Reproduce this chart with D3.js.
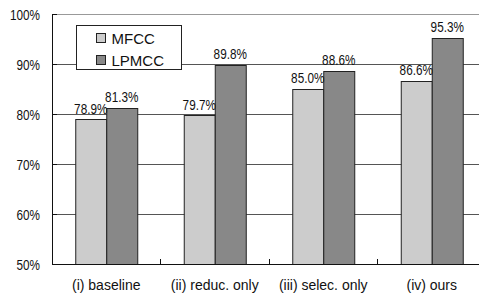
<!DOCTYPE html>
<html>
<head>
<meta charset="utf-8">
<script src="https://cdn.jsdelivr.net/npm/d3@7"></script>
<style>
    body { margin: 0; background: #fff; }
    svg { display: block; }
    text { font-family: "Liberation Sans", Arial, sans-serif; fill: #111; }
</style>
</head>
<body>
<div id="chart"></div>
<script>
const CATEGORIES = ["(i) baseline", "(ii) reduc. only", "(iii) selec. only", "(iv) ours"];
const SERIES = ["MFCC", "LPMCC"];
const MFCC = [78.9, 79.7, 85.0, 86.6];
const LPMCC = [81.3, 89.8, 88.6, 95.3];
const Y_TICKS = [50, 60, 70, 80, 90, 100];

const COLORS = { MFCC: "#cccccc", LPMCC: "#888888" };
const SQUEEZE = 0.84; // narrow numeric font look

const W = 479, H = 294;
const margin = { left: 52, top: 14, bottom: 30 };
const plotRight = 486; // plot runs past the picture edge

const svg = d3.select("#chart").append("svg")
    .attr("width", W)
    .attr("height", H);

const x = d3.scaleBand()
    .domain(CATEGORIES)
    .range([margin.left, plotRight])
    .paddingInner(0.4286)
    .paddingOuter(0.2143);

const x1 = d3.scaleBand()
    .domain(SERIES)
    .range([0, x.bandwidth()]);

const y = d3.scaleLinear()
    .domain([50, 100])
    .range([H - margin.bottom, margin.top]);

const rows = CATEGORIES.map((c, i) => ({ cat: c, MFCC: MFCC[i], LPMCC: LPMCC[i] }));

// gridlines
svg.append("g")
    .selectAll("line")
    .data(Y_TICKS.slice(1))
    .enter()
    .append("line")
    .attr("x1", margin.left)
    .attr("x2", W)
    .attr("y1", d => Math.round(y(d)) + 0.5)
    .attr("y2", d => Math.round(y(d)) + 0.5)
    .attr("stroke", d => d === 100 ? "#999" : "#555");

// y ticks (inward) and labels
const yt = svg.append("g");
yt.selectAll("line")
    .data(Y_TICKS)
    .enter()
    .append("line")
    .attr("x1", margin.left)
    .attr("x2", margin.left + 5)
    .attr("y1", d => Math.round(y(d)) + 0.5)
    .attr("y2", d => Math.round(y(d)) + 0.5)
    .attr("stroke", "#111");
yt.selectAll("text")
    .data(Y_TICKS)
    .enter()
    .append("text")
    .attr("transform", d => `translate(40,${y(d) + 6}) scale(${SQUEEZE},1)`)
    .attr("text-anchor", "end")
    .attr("font-size", 14)
    .text(d => d + "%");

// bars
const groups = svg.append("g")
    .selectAll("g")
    .data(rows)
    .enter()
    .append("g")
    .attr("transform", d => `translate(${x(d.cat)},0)`);

groups.selectAll("rect")
    .data(d => SERIES.map(s => ({ key: s, value: d[s] })))
    .enter()
    .append("rect")
    .attr("x", d => Math.round(x1(d.key)) + 0.5)
    .attr("width", x1.bandwidth())
    .attr("y", d => Math.round(y(d.value)) + 0.5)
    .attr("height", d => y(50) - Math.round(y(d.value)))
    .attr("fill", d => COLORS[d.key])
    .attr("stroke", "#222");

groups.selectAll("text")
    .data(d => SERIES.map(s => ({ key: s, value: d[s] })))
    .enter()
    .append("text")
    .attr("transform", d =>
        `translate(${x1(d.key) + x1.bandwidth() / 2},${y(d.value) - 6}) scale(${SQUEEZE},1)`)
    .attr("text-anchor", "middle")
    .attr("font-size", 14)
    .text(d => d.value.toFixed(1) + "%");

// axes lines
svg.append("line")
    .attr("x1", margin.left + 0.5).attr("x2", margin.left + 0.5)
    .attr("y1", y(100)).attr("y2", y(50) + 1)
    .attr("stroke", "#111");
svg.append("line")
    .attr("x1", margin.left).attr("x2", W)
    .attr("y1", y(50) + 0.5).attr("y2", y(50) + 0.5)
    .attr("stroke", "#111");

// category separator ticks
svg.append("g")
    .selectAll("line")
    .data(CATEGORIES.slice(1))
    .enter()
    .append("line")
    .attr("x1", d => Math.round(x(d) - x.step() * x.paddingInner() / 2) + 0.5)
    .attr("x2", d => Math.round(x(d) - x.step() * x.paddingInner() / 2) + 0.5)
    .attr("y1", y(50))
    .attr("y2", y(50) - 5)
    .attr("stroke", "#111");

// category labels
svg.append("g")
    .selectAll("text")
    .data(CATEGORIES)
    .enter()
    .append("text")
    .attr("x", d => x(d) + x.bandwidth() / 2)
    .attr("y", 290)
    .attr("text-anchor", "middle")
    .attr("font-size", 14)
    .text(d => d);

// legend
const legend = svg.append("g").attr("transform", "translate(76.5,25.5)");
legend.append("rect")
    .attr("width", 105)
    .attr("height", 44)
    .attr("fill", "#fff")
    .attr("stroke", "#222");
const items = legend.selectAll("g")
    .data(SERIES)
    .enter()
    .append("g")
    .attr("transform", (d, i) => `translate(20,${8 + i * 22})`);
items.append("rect")
    .attr("width", 9)
    .attr("height", 9)
    .attr("fill", d => COLORS[d])
    .attr("stroke", "#222");
items.append("text")
    .attr("x", 15)
    .attr("y", 10)
    .attr("font-size", 15)
    .text(d => d);
</script>
</body>
</html>
